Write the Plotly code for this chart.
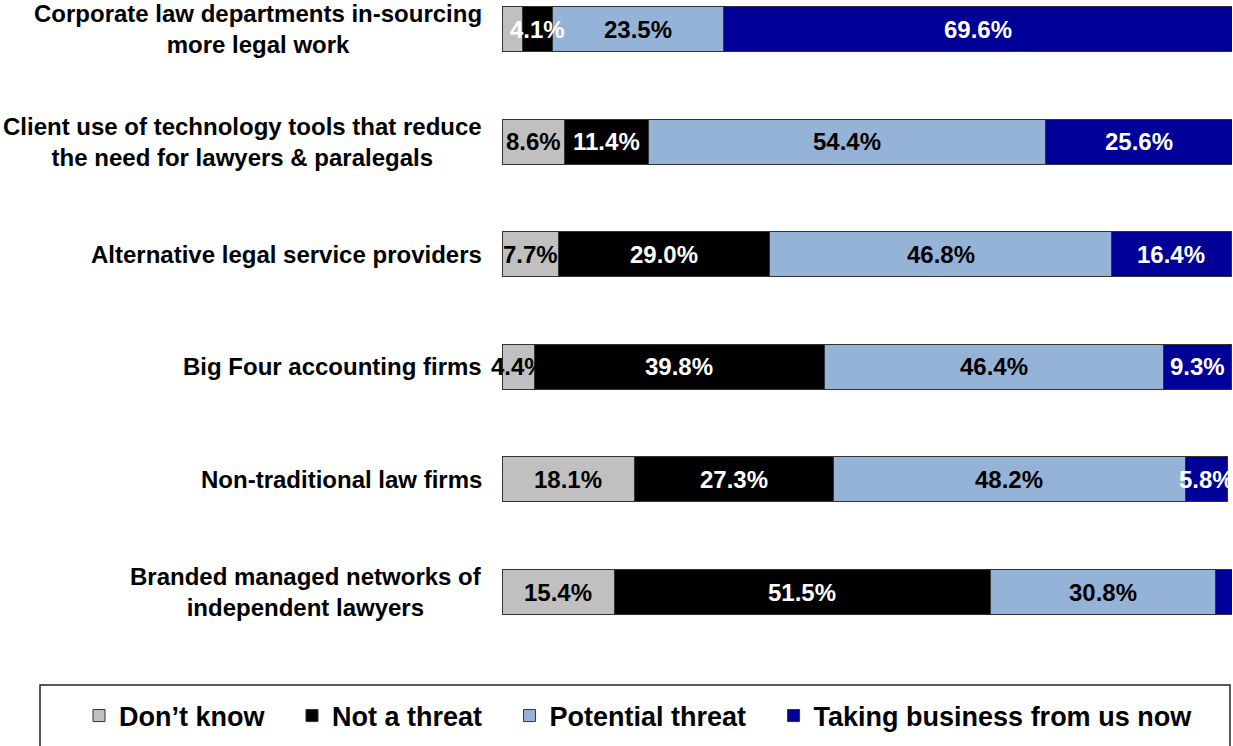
import plotly.graph_objects as go

categories = [
    "Corporate law departments in-sourcing<br>more legal work",
    "Client use of technology tools that reduce<br>the need for lawyers & paralegals",
    "Alternative legal service providers",
    "Big Four accounting firms",
    "Non-traditional law firms",
    "Branded managed networks of<br>independent lawyers",
]
dont_know = [2.8, 8.6, 7.7, 4.4, 18.1, 15.4]
not_threat = [4.1, 11.4, 29.0, 39.8, 27.3, 51.5]
potential = [23.5, 54.4, 46.8, 46.4, 48.2, 30.8]
taking = [69.6, 25.6, 16.4, 9.3, 5.8, 2.3]

dont_know_lbl = ["", "8.6%", "7.7%", "4.4%", "18.1%", "15.4%"]
not_threat_lbl = ["4.1%", "11.4%", "29.0%", "39.8%", "27.3%", "51.5%"]
potential_lbl = ["23.5%", "54.4%", "46.8%", "46.4%", "48.2%", "30.8%"]
taking_lbl = ["69.6%", "25.6%", "16.4%", "9.3%", "5.8%", ""]

series = [
    ("Don\u2019t know", dont_know, dont_know_lbl, "#C0C0C0", "black"),
    ("Not a threat", not_threat, not_threat_lbl, "#000000", "white"),
    ("Potential threat", potential, potential_lbl, "#95B3D7", "black"),
    ("Taking business from us now", taking, taking_lbl, "#000099", "white"),
]

FONT = "Liberation Sans, Arial, sans-serif"
PAD = "\u00a0\u00a0\u00a0"

W, H = 1233, 746
L, R, T, B = 502, 1, 0, 96
pw, ph = W - L - R, H - T - B

def px(x):
    return (x - L) / pw

def py(y):
    return (H - B - y) / ph

fig = go.Figure()
annotations = []
base = [0.0] * len(categories)
for name, vals, lbls, color, tcolor in series:
    fig.add_trace(go.Bar(
        y=categories, x=vals, name=name + PAD, orientation="h",
        marker=dict(color=color, line=dict(color="#333333", width=1)),
        hoverinfo="skip",
    ))
    for i, (v, lab) in enumerate(zip(vals, lbls)):
        if lab:
            annotations.append(dict(
                x=base[i] + v / 2, y=categories[i], xref="x", yref="y",
                text=lab, showarrow=False, xanchor="center", yanchor="middle",
                font=dict(family=FONT, size=24, color=tcolor, weight="bold"),
            ))
        base[i] += v

for c in categories:
    annotations.append(dict(
        x=px(484), y=c, xref="paper", yref="y", text=c, showarrow=False,
        xanchor="right", yanchor="middle", align="center",
        font=dict(family=FONT, size=24, color="black", weight="bold"),
    ))

fig.update_layout(
    width=W, height=H, barmode="stack", bargap=0.6,
    margin=dict(l=L, r=R, t=T, b=B),
    paper_bgcolor="white", plot_bgcolor="white",
    font=dict(family=FONT, size=22, color="black"),
    xaxis=dict(range=[0, 100], visible=False, fixedrange=True),
    yaxis=dict(range=[5.515, -0.258], showgrid=False, showline=False, zeroline=False,
               ticks="", showticklabels=False),
    legend=dict(orientation="h", x=px(79), xanchor="left", y=py(716), yanchor="middle",
                font=dict(family=FONT, size=27, color="black", weight="bold"),
                bgcolor="rgba(0,0,0,0)", itemclick=False, itemdoubleclick=False,
                traceorder="normal", itemwidth=30),
    shapes=[dict(type="rect", xref="paper", yref="paper",
                 x0=px(40), x1=px(1230), y0=py(685), y1=py(770),
                 line=dict(color="#222222", width=1.5), fillcolor="rgba(0,0,0,0)", layer="below")],
    annotations=annotations,
    showlegend=True,
)

fig.write_html("out.html")
